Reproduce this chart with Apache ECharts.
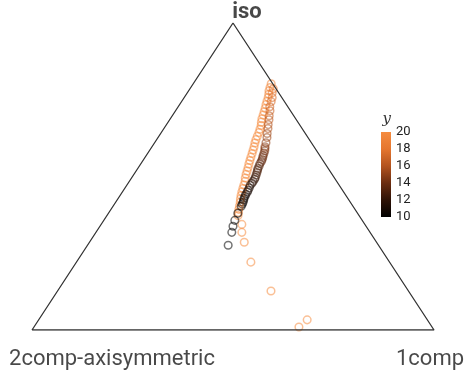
<!DOCTYPE html>
<html>
<head>
<meta charset="utf-8">
<script src="https://cdn.jsdelivr.net/npm/echarts@6/dist/echarts.min.js"></script>
<style>
html,body{margin:0;padding:0;background:#fff;}
#main{width:467px;height:374px;}
</style>
</head>
<body>
<div id="main"></div>
<script>
// Ternary corner names
var cornerNames = ['2comp-axisymmetric', '1comp', 'iso'];

// Composition fractions (iso, 1comp, 2comp-axisymmetric) and colour value y
var isoFrac = [
  // orange strand
  0.802, 0.790, 0.779, 0.768, 0.757, 0.745, 0.734, 0.722, 0.711, 0.700,
  0.688, 0.677, 0.666, 0.654, 0.643, 0.631, 0.620, 0.609, 0.597, 0.586,
  0.575, 0.563, 0.552, 0.541, 0.529, 0.518, 0.507, 0.495, 0.484, 0.472,
  0.461, 0.450, 0.438, 0.427, 0.416, 0.404, 0.393, 0.383, 0.373,
  0.344, 0.318, 0.286, 0.221, 0.127, 0.010, 0.033,
  // dark strand
  0.786, 0.773, 0.757, 0.744, 0.727, 0.714, 0.698, 0.685, 0.669, 0.656,
  0.640, 0.627, 0.610, 0.597, 0.591, 0.584, 0.576, 0.568, 0.562, 0.555,
  0.549, 0.542, 0.534, 0.526, 0.520, 0.513, 0.505, 0.497, 0.491, 0.484,
  0.478, 0.471, 0.463, 0.455, 0.449, 0.442, 0.436, 0.429, 0.423, 0.416,
  0.410, 0.403, 0.380, 0.357, 0.338, 0.318, 0.276
];
var oneCompFrac = [
  0.194, 0.197, 0.200, 0.205, 0.209, 0.212, 0.215, 0.219, 0.222, 0.225,
  0.228, 0.232, 0.237, 0.240, 0.243, 0.245, 0.247, 0.250, 0.254, 0.257,
  0.260, 0.263, 0.266, 0.269, 0.273, 0.276, 0.279, 0.283, 0.288, 0.291,
  0.294, 0.297, 0.301, 0.305, 0.310, 0.314, 0.318, 0.322, 0.326,
  0.350, 0.363, 0.385, 0.434, 0.531, 0.659, 0.668,
  0.207, 0.211, 0.219, 0.223, 0.228, 0.235, 0.241, 0.247, 0.253, 0.259,
  0.265, 0.271, 0.277, 0.281, 0.284, 0.287, 0.289, 0.291, 0.293, 0.295,
  0.296, 0.296, 0.298, 0.299, 0.301, 0.303, 0.305, 0.307, 0.308, 0.308,
  0.308, 0.307, 0.309, 0.310, 0.311, 0.311, 0.312, 0.313, 0.315, 0.317,
  0.318, 0.319, 0.322, 0.326, 0.331, 0.338, 0.350
];
var twoCompFrac = [
  0.004, 0.013, 0.021, 0.027, 0.034, 0.043, 0.051, 0.059, 0.067, 0.075,
  0.084, 0.091, 0.097, 0.106, 0.114, 0.124, 0.133, 0.141, 0.149, 0.157,
  0.165, 0.174, 0.182, 0.190, 0.198, 0.206, 0.214, 0.222, 0.228, 0.237,
  0.245, 0.253, 0.261, 0.268, 0.274, 0.282, 0.289, 0.295, 0.301,
  0.306, 0.319, 0.329, 0.345, 0.342, 0.331, 0.299,
  0.007, 0.016, 0.024, 0.033, 0.045, 0.051, 0.061, 0.068, 0.078, 0.085,
  0.095, 0.102, 0.113, 0.122, 0.125, 0.129, 0.135, 0.141, 0.145, 0.150,
  0.155, 0.162, 0.168, 0.175, 0.179, 0.184, 0.190, 0.196, 0.201, 0.208,
  0.214, 0.222, 0.228, 0.235, 0.240, 0.247, 0.252, 0.258, 0.262, 0.267,
  0.272, 0.278, 0.298, 0.317, 0.331, 0.344, 0.374
];
var yValue = [
  19.5, 19.5, 19.5, 19.5, 19.5, 20, 20, 20, 20, 20,
  20, 20, 20, 20, 20, 20, 20, 20, 20, 20,
  20, 20, 20, 20, 20, 20, 20, 20, 20, 20,
  20, 20, 20, 20, 20, 20, 20, 20, 20,
  20, 20, 20, 20, 20, 20, 20,
  18, 18, 17.5, 17.5, 17, 17, 16.5, 16.5, 16, 16,
  15.5, 15.5, 15, 15, 14.8, 14.5, 14.2, 14, 14, 14,
  13.8, 13.5, 13.2, 13, 13, 13, 12.8, 12.5, 12.2, 12,
  11.8, 11.5, 11.2, 11, 11, 11, 10.8, 10.5, 10.5, 10.5,
  10.2, 10, 10, 10, 10, 10, 10
];

// Colour scale
var colorStops = ['#000000', '#2e1206', '#6b2d10', '#b3531f', '#e5762f', '#f58c40'];
var yTicks = [10, 12, 14, 16, 18, 20];

var pts = [];
for (var i = 0; i < isoFrac.length; i++) {
  var t = isoFrac[i], r = oneCompFrac[i];
  pts.push([r + t / 2, t, yValue[i]]);
}
var corners = [[0, 0, cornerNames[0]], [1, 0, cornerNames[1]], [0.5, 1, cornerNames[2]]];

var chart = echarts.init(document.getElementById('main'), null, {renderer: 'canvas'});
var font = 'Roboto, "Liberation Sans", sans-serif';

chart.setOption({
  animation: false,
  backgroundColor: '#fff',
  grid: [
    {left: 32, right: 33, top: 23, bottom: 44},
    {left: 381, width: 10, top: 132, height: 85}
  ],
  xAxis: [
    {gridIndex: 0, type: 'value', min: 0, max: 1, show: false},
    {gridIndex: 1, type: 'category', data: ['c'], show: false}
  ],
  yAxis: [
    {gridIndex: 0, type: 'value', min: 0, max: 1, show: false},
    {gridIndex: 1, type: 'value', min: yTicks[0], max: yTicks[yTicks.length - 1], interval: 2,
     position: 'right',
     name: 'y', nameLocation: 'end', nameGap: 5,
     nameTextStyle: {fontFamily: '"DejaVu Serif", serif', fontStyle: 'italic', fontSize: 15, color: '#333', align: 'right'},
     axisLine: {show: false}, axisTick: {show: false}, splitLine: {show: false},
     axisLabel: {fontSize: 13, color: '#222', margin: 5, fontFamily: font}}
  ],
  visualMap: {
    show: false, type: 'continuous', min: 10, max: 20, dimension: 2, seriesIndex: 1,
    inRange: {color: colorStops}
  },
  series: [
    {
      type: 'line', xAxisIndex: 0, yAxisIndex: 0,
      data: [corners[0].slice(0, 2), corners[1].slice(0, 2), corners[2].slice(0, 2), corners[0].slice(0, 2)],
      showSymbol: false, symbol: 'none', silent: true,
      lineStyle: {color: '#333', width: 1.3}
    },
    {
      type: 'custom', xAxisIndex: 0, yAxisIndex: 0,
      data: pts,
      encode: {x: 0, y: 1},
      renderItem: function (params, api) {
        var p = api.coord([api.value(0), api.value(1)]);
        return {
          type: 'circle',
          shape: {cx: p[0], cy: p[1], r: 3.8},
          style: {fill: 'none', stroke: api.visual('color'), lineWidth: 1.5, opacity: 0.55}
        };
      }
    },
    {
      type: 'scatter', xAxisIndex: 0, yAxisIndex: 0,
      data: [
        {value: corners[0], label: {offset: [80, 29]}},
        {value: corners[1], label: {offset: [-4, 29]}},
        {value: corners[2], label: {offset: [14, -11], fontWeight: 'bold'}}
      ],
      symbolSize: 0, silent: true,
      label: {show: true, position: 'inside', fontSize: 22, color: '#1a1a1a', fontFamily: font,
        formatter: function (p) { return p.value[2]; }}
    },
    {
      type: 'custom', xAxisIndex: 1, yAxisIndex: 1,
      data: [[0, yTicks[0], yTicks[yTicks.length - 1]]],
      silent: true,
      renderItem: function (params, api) {
        var p0 = api.coord([api.value(0), api.value(1)]);
        var p1 = api.coord([api.value(0), api.value(2)]);
        var w = api.size([1, 0])[0];
        var stops = colorStops.map(function (c, k) {
          return {offset: 1 - k / (colorStops.length - 1), color: c};
        });
        return {
          type: 'rect',
          shape: {x: p0[0] - w / 2, y: p1[1], width: w, height: p0[1] - p1[1]},
          style: {fill: new echarts.graphic.LinearGradient(0, 0, 0, 1, stops.reverse())}
        };
      }
    }
  ]
});
</script>
</body>
</html>
